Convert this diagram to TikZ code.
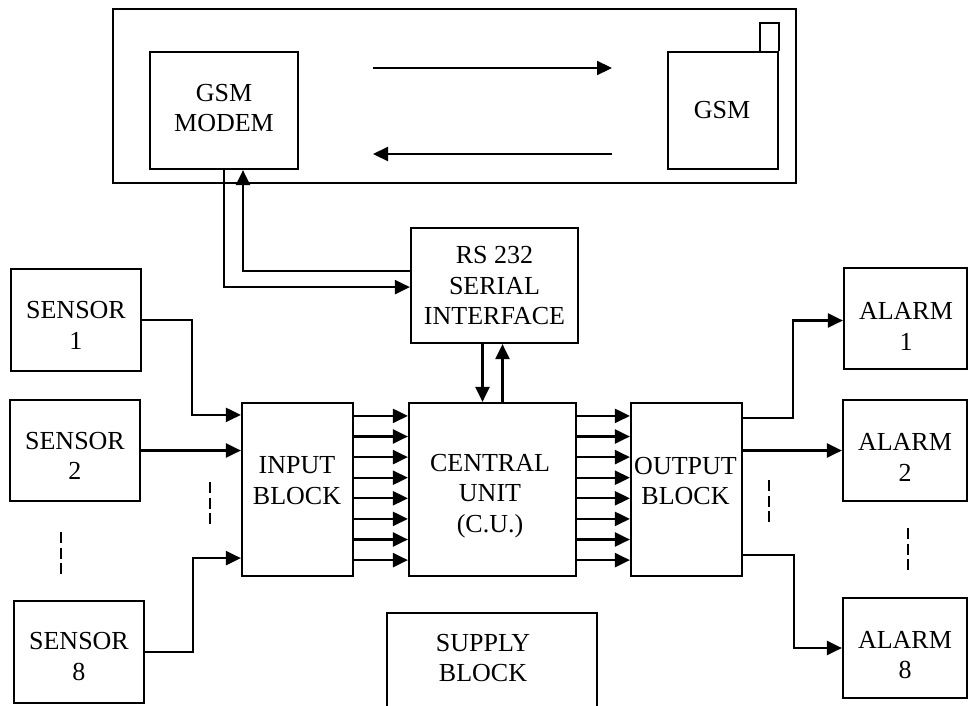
\documentclass[tikz,border=0pt]{standalone}
\usepackage{fontspec}
\setmainfont{Liberation Serif}
\usetikzlibrary{arrows.meta,calc}
\tikzset{
  box/.style={draw, line width=2.2pt, inner sep=0pt, rectangle},
  lbl/.style={align=center, inner sep=0pt, font=\fontsize{26}{30.5}\selectfont},
  arr/.style={line width=2.2pt, -{Triangle[length=15pt,width=14pt]}},
  wire/.style={line width=2.2pt},
  dotsline/.style={line width=2.2pt, dash pattern=on 11pt off 4.5pt}
}
\begin{document}
\begin{tikzpicture}[x=1pt,y=-1pt]
\clip (0,0) rectangle (969,705);
% top frame
\node[box, minimum width=683pt, minimum height=174pt] (outer) at (454.5,96) {};
\node[box, minimum width=148pt, minimum height=117pt] (modem) at (224,110.5) {};
\node[lbl] (modemt) at (224,108) {GSM\\MODEM};
\node[box, minimum width=110pt, minimum height=117pt] (phone) at (723,110.5) {};
\node[lbl] (phonet) at (722,110) {GSM};
\draw[wire] (phone.north east) -- ++(0,-28) -| ++(-19,28);
\coordinate (ta) at (373,68);
\coordinate (tb) at (612,68);
\coordinate (ba) at (612,154);
\coordinate (bb) at (373,154);
\draw[arr] (ta) -- (tb);
\draw[arr] (ba) -- (bb);
% RS232
\node[box, minimum width=167pt, minimum height=115pt] (rs) at (494.5,285.5) {};
\node[lbl] (rst) at (494.5,286) {RS 232\\SERIAL\\INTERFACE};
\draw[arr] (modem.south) -- ([yshift=-117pt]modem.south) -- ([yshift=-117pt]modem.south -| rs.west);
\draw[arr] ([yshift=14.5pt]rs.west) -| ([xshift=19pt]modem.south);
% main row
\node[box, minimum width=111pt, minimum height=173pt] (inb) at (297.5,489.5) {};
\node[lbl] (inbt) at (297,480.5) {INPUT\\BLOCK};
\node[box, minimum width=167pt, minimum height=173pt] (cu) at (492.5,489.5) {};
\node[lbl] (cut) at (490,496) {CENTRAL\\UNIT\\(C.U.)};
\node[box, minimum width=111pt, minimum height=173pt] (outb) at (686.5,489.5) {};
\node[lbl] (outbt) at (685.5,481) {OUTPUT\\BLOCK};
\draw[arr] ([xshift=-12pt]rs.south) -- ([xshift=-12pt]rs.south |- cu.north);
\draw[arr] ([xshift=8pt]rs.south |- cu.north) -- ([xshift=8pt]rs.south);
\foreach \i in {0,...,7}{
  \draw[arr] ([yshift=-14pt-\i*20.6pt]inb.north east) -- ([yshift=-14pt-\i*20.6pt]inb.north east -| cu.west);
  \draw[arr] ([yshift=-14pt-\i*20.6pt]cu.north east) -- ([yshift=-14pt-\i*20.6pt]cu.north east -| outb.west);
}
% sensors
\node[box, minimum width=130pt, minimum height=102pt] (s1) at (76,320) {};
\node[lbl] (s1t) at (76,325.5) {SENSOR\\1};
\node[box, minimum width=130pt, minimum height=101pt] (s2) at (75,450.5) {};
\node[lbl] (s2t) at (75,456) {SENSOR\\2};
\node[box, minimum width=130pt, minimum height=102pt] (s8) at (79,652) {};
\node[lbl] (s8t) at (79,656.5) {SENSOR\\8};
\draw[arr] (s1.east) -- ++(50,0) |- ([yshift=-13pt]inb.north west);
\draw[arr] (s2.east) -- (s2.east -| inb.west);
\draw[arr] (s8.east) -- ++(48,0) |- ([yshift=19pt]inb.south west);
\draw[dotsline] (210,482) -- (210,524);
\draw[dotsline] (61,532) -- (61,574);
% alarms
\node[box, minimum width=123pt, minimum height=101pt] (a1) at (905.5,318.5) {};
\node[lbl] (a1t) at (906,326.5) {ALARM\\1};
\node[box, minimum width=124pt, minimum height=101pt] (a2) at (905,450.5) {};
\node[lbl] (a2t) at (905,457.5) {ALARM\\2};
\node[box, minimum width=124pt, minimum height=100pt] (a8) at (905,648) {};
\node[lbl] (a8t) at (905,655) {ALARM\\8};
\draw[arr] ([yshift=-16pt]outb.north east) -- ++(50,0) |- ([yshift=-2pt]a1.west);
\draw[arr] (outb.east |- a2.west) -- (a2.west);
\draw[arr] ([yshift=22pt]outb.south east) -- ++(51,0) |- (a8.west);
\draw[dotsline] (769,480) -- (769,522);
\draw[dotsline] (908,528) -- (908,572);
% supply
\node[box, minimum width=210pt, minimum height=132pt] (sup) at (492,679) {};
\node[lbl] (supt) at (483,658) {SUPPLY\\BLOCK};
\end{tikzpicture}
\end{document}
